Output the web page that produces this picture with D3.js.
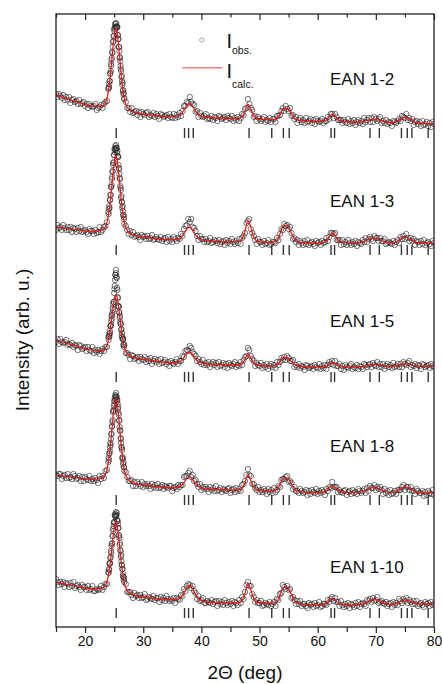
<!DOCTYPE html>
<html><head><meta charset="utf-8">
<script src="https://cdn.jsdelivr.net/npm/d3@7"></script>
<style>
body{margin:0;background:#fff}
svg{display:block}
text{font-family:"Liberation Sans",Arial,Helvetica,sans-serif;fill:#111}
</style>
</head><body>
<svg id="chart" width="442" height="684"></svg>
<script>
// ---------------- data ----------------
const samples = ["EAN 1-2", "EAN 1-3", "EAN 1-5", "EAN 1-8", "EAN 1-10"];
const offsets = [480, 360, 240, 118, 0];          // vertical stacking offsets (arb. u.)
const labelLevel = [62, 60, 60, 57, 54];           // label height above each offset (arb. u.)
const markerBase = [9, 12, 5, 4, 9];               // Bragg-marker base above each offset (arb. u.)
const reflections = [25.35, 37.1, 37.8, 38.6, 48.2, 52.1, 54.1, 55.1, 62.3, 62.9, 69.0, 70.6, 74.4, 75.4, 76.2, 79.0];
const xMajorTicks = [20, 30, 40, 50, 60, 70, 80];
const xMinorTicks = [15, 25, 35, 45, 55, 65, 75];

// measurement grid (2θ, deg): coarse, fine around the main reflection, coarse
const obsX = [].concat(d3.range(15, 23.76, 0.25), d3.range(24, 26.76, 0.05), d3.range(27, 80.01, 0.25));

const obs12 = [53,50,53,51,49,52,47,50,47,50,44,47,48,45,46,43,47,43,44,45,41,43,39,43,41,40,41,43,37,39,40,42,39,43,45,46,
58,59,60,63,66,66,73,74,76,83,81,87,89,95,94,100,105,106,111,111,118,116,119,123,120,123,120,124,121,119,120,120,112,112,108,108,100,100,96,89,90,86,81,78,76,70,71,66,62,64,56,57,53,54,48,49,
45,39,39,35,39,34,35,36,32,35,30,35,33,32,34,35,30,32,31,34,30,33,31,28,33,32,30,31,32,29,33,30,29,33,29,32,30,34,31,36,
41,41,45,44,50,45,43,42,35,36,30,34,31,30,31,33,28,29,28,31,27,30,29,26,31,30,28,29,30,27,31,29,28,31,26,29,27,30,26,29,
33,32,38,39,48,43,39,37,30,31,26,30,28,26,28,30,25,27,26,29,25,28,28,25,31,31,32,36,39,36,41,38,36,39,31,32,28,30,24,27,
29,25,27,24,29,25,26,28,24,27,23,28,26,25,26,28,24,26,26,30,28,33,33,29,33,30,27,27,27,24,27,25,24,28,23,26,24,27,22,25,
27,24,26,23,29,25,27,29,25,29,25,30,28,26,28,30,24,26,24,27,23,25,24,21,26,25,24,26,28,26,31,30,29,33,27,29,26,28,22,25,
26,23,25,21,26,22,23,25,21,24,20,25,23];
const obs13 = [37,42,39,40,37,42,39,37,40,37,40,35,39,38,35,39,36,40,35,36,37,35,33,38,36,36,33,37,34,35,40,35,37,40,41,45,
55,53,58,61,59,67,67,72,72,80,80,82,88,90,96,95,102,104,105,112,112,118,115,118,121,119,117,122,119,119,114,116,111,110,110,102,99,98,93,89,88,81,79,77,69,71,65,65,59,61,56,52,52,48,50,43,
41,37,33,36,32,35,30,31,32,30,27,32,30,31,28,31,28,29,32,27,28,30,28,27,30,26,28,29,25,30,26,28,25,30,28,26,29,28,33,31,
38,41,42,48,45,48,40,39,36,31,27,31,28,28,25,28,25,26,29,24,25,27,26,24,27,23,25,26,22,27,24,26,23,28,25,23,26,24,28,23,
29,31,34,44,46,48,38,34,31,27,23,28,25,25,22,26,23,24,27,22,23,25,25,24,29,27,33,38,37,43,41,42,38,40,34,28,29,25,27,22,
26,24,22,26,23,27,22,24,25,23,21,26,24,25,22,26,24,25,29,26,30,34,34,33,34,27,27,27,22,27,23,25,22,27,24,22,25,23,26,21,
25,24,23,27,25,29,25,28,30,28,26,31,29,29,26,29,26,26,28,23,24,25,24,23,26,22,25,27,24,30,28,31,28,33,29,26,29,26,28,22,
26,25,22,26,23,27,22,24,25,23,21,26,24];
const obs15 = [45,48,43,48,45,44,45,47,42,43,42,44,40,42,41,37,42,41,38,39,40,36,40,37,36,40,34,37,35,37,33,36,38,36,40,40,
50,47,50,53,51,56,54,61,61,62,66,71,68,72,74,79,77,83,85,85,94,98,101,107,112,112,117,114,110,109,99,97,90,89,81,81,80,75,74,69,71,65,63,63,57,58,51,54,50,48,48,48,42,43,40,42,
34,34,32,28,32,31,28,29,30,26,30,28,27,30,25,28,26,29,23,26,28,25,27,23,28,24,25,27,23,25,21,26,24,23,25,28,23,26,26,31,
30,36,37,36,41,39,35,33,31,26,28,25,23,27,22,24,22,25,20,23,25,22,24,20,25,21,22,24,20,23,19,24,22,21,23,25,20,22,21,25,
22,27,30,31,39,37,31,28,26,21,24,22,21,24,19,22,20,23,18,21,23,20,22,19,25,22,25,29,27,30,27,31,29,26,26,27,20,22,20,23,
19,21,20,17,22,21,19,20,21,18,22,20,19,23,18,21,19,22,18,22,25,23,26,22,26,21,21,23,18,21,17,22,20,19,21,23,18,20,19,22,
18,21,20,18,23,22,20,22,23,20,24,22,21,25,20,23,20,23,18,21,23,20,22,19,24,20,21,23,20,23,20,25,23,22,24,26,20,22,21,23,
19,22,21,18,23,22,20,21,22,19,23,21,20];
const obs18 = [34,33,35,35,30,33,34,31,35,31,32,30,35,33,30,31,33,28,32,28,32,30,29,33,28,30,28,31,29,26,33,30,33,31,38,39,
47,51,49,55,56,58,62,66,64,70,75,75,82,83,87,89,97,98,99,103,108,105,111,109,114,113,112,116,110,112,108,109,105,100,102,96,94,88,89,82,79,78,71,70,66,62,61,59,51,52,50,45,47,42,42,38,
37,32,28,28,29,23,27,23,27,25,23,27,22,25,23,25,23,20,25,22,24,21,25,21,22,24,20,23,22,21,23,23,18,21,22,20,24,22,24,24,
32,33,33,36,38,32,34,28,29,25,22,25,19,22,20,22,20,17,22,19,21,18,23,18,19,21,17,20,19,18,20,21,16,19,20,17,21,18,20,18,
24,25,28,34,40,34,33,25,25,21,19,22,17,19,17,20,18,15,20,17,19,16,21,17,19,23,22,29,30,30,32,33,27,28,26,20,22,18,18,16,
20,18,16,17,19,14,18,15,19,17,16,20,15,18,16,19,17,14,20,18,22,21,27,22,22,22,17,19,17,16,18,19,14,17,18,15,19,16,17,15,
20,18,16,18,20,16,21,18,23,21,21,24,19,22,20,22,19,15,20,16,18,14,19,15,16,18,15,19,19,19,22,24,19,22,22,19,22,18,18,15,
20,18,16,16,18,13,17,14,18,16,15,19,14];
const obs110 = [48,45,42,45,43,45,40,44,43,40,44,41,45,39,41,42,40,37,42,40,40,37,41,37,38,41,36,36,38,37,38,41,37,40,43,43,
55,54,58,57,64,63,64,69,70,76,74,81,83,84,91,91,98,96,101,104,105,105,112,111,113,110,115,111,112,114,107,106,106,103,99,99,92,91,89,82,84,77,76,70,72,66,62,62,58,58,51,53,50,47,49,45,
43,35,35,35,32,29,34,31,32,29,32,29,30,33,27,28,30,29,28,31,27,29,29,25,30,27,29,26,31,28,26,28,26,29,24,29,28,27,32,31,
38,36,41,43,42,39,41,36,34,28,31,26,27,29,24,24,26,25,24,27,23,25,26,21,26,23,25,22,27,24,22,25,23,26,21,25,24,22,27,24,
30,28,35,42,45,41,41,33,30,25,27,24,24,26,21,22,24,23,22,25,21,23,25,21,28,27,33,34,42,40,38,41,37,38,29,30,27,23,26,23,
26,21,23,23,21,19,24,22,23,20,24,21,22,25,20,21,23,23,22,27,25,28,30,26,29,25,25,21,26,22,20,23,21,24,19,23,22,20,24,21,
25,20,23,24,23,21,27,26,28,25,29,26,27,30,24,25,26,24,23,25,21,23,24,20,25,22,24,22,28,26,24,28,26,29,24,27,25,23,26,23,
26,21,23,24,22,20,25,23,24,21,25,22,23];

// calculated profiles (Rietveld fit), read at these 2θ positions
const calcX = [15,17,19,21,23,23.75,24.25,24.6,24.9,25.15,25.3,25.5,25.8,26.1,26.5,27,27.75,29,31,33,35,36,36.5,37,37.5,38,38.5,39,39.5,40.25,41.5,43,45,46.5,47,47.5,48,48.5,49,49.5,50.5,52,53,53.5,54,54.5,55,55.5,56,56.75,58,60,61,61.5,62,62.5,63,63.5,64.25,66,67.5,68.5,69.5,70.5,71.5,73,74,75,76,77,78.5,80];
const calc12 = [52,48,44.5,41,40.8,48.3,66.4,87.2,106,116.6,118.5,114.8,99.2,79.5,57.3,42.6,36.4,33.9,32.3,30.8,30.3,31,32.9,37.1,41.8,43.7,40.9,35.8,32.4,30.3,29.3,28.9,28.5,28.8,30.2,35.5,42.9,38,31.3,28.8,27.7,27.3,28.6,32.8,37.7,38.6,37.3,33,28.9,26.8,25.9,25.5,25.8,26.9,30.2,32.8,30.9,27.5,25.6,25,25.2,26.6,27.7,27,25.3,24.4,26.8,29.9,27.4,24.3,23.3,23];
const calc13 = [40,38.5,37,35.5,37.2,44.4,61.7,81.5,99.4,109.5,111.3,107.8,93,74.2,53.2,39.2,33.3,30.9,29.2,27.8,27.3,27.9,29.7,33.6,38.1,39.9,37.1,32.1,28.8,26.75,25.8,25.4,25,25.75,27.9,35.75,46.7,39.65,29.9,26.35,24.85,24.65,26.7,32.9,40.2,41.55,39.75,33.6,27.9,24.9,24,24,24.5,26,30.5,34,31.5,27,24.5,24,24.5,27,29,28,25.25,24.1,26.7,30,27.6,24.7,24,24];
const calc15 = [47,43.5,40,37,36.4,41.7,54.7,69.8,83.45,91.1,92.4,89.6,78.05,63.3,46.9,35.8,31,28.7,26.9,25.2,24.2,24.7,26.2,29.6,33.4,34.9,32.5,28.3,25.4,23.65,22.8,22.4,22,22.2,23.3,27.5,33.4,29.5,24.1,22.1,21.15,21,22,25.15,28.9,29.55,28.6,25.45,22.4,20.8,20.2,20,20.2,20.9,22.9,24.5,23.4,21.35,20.2,20,20.33,21.4,22.3,22,20.96,20.6,21.75,23.2,22.25,21.1,20.91,21];
const calc18 = [34,32.5,31,29.5,31.4,39.1,57.5,78.5,97.7,108.4,110.3,106.6,90.9,70.9,48.6,33.7,27.4,25,23.3,21.8,21.2,21.7,23.2,26.6,30.4,31.9,29.5,25.3,22.4,20.65,19.8,19.4,19,19.3,20.8,26.25,33.9,28.8,21.9,19.3,18.2,17.9,19.4,24.3,30.1,31.1,29.6,24.65,20,17.5,16.7,16.5,16.85,17.9,21.05,23.5,21.75,18.6,16.85,16.5,17,19.5,21.5,20.5,17.75,16.54,19.1,22.3,19.85,16.9,16.09,16];
const calc110 = [45,42.5,40.5,38,38.9,45.2,60.7,78.6,94.75,103.9,105.4,102.2,88.5,71.2,52,39,33.4,30.9,29.2,27.8,27.3,27.8,29.8,34.3,39.3,41.3,38,32.2,28.3,25.85,24.85,24.4,24,24.65,26.6,33.75,43.7,37.25,28.4,25.15,23.85,23.6,25.6,31.65,38.7,40.05,38.3,32.25,26.5,23.5,22.4,22,22.35,23.4,26.55,29,27.25,24.1,22.35,22,22.6,25.2,27.3,26.4,23.7,22.65,24.65,27.2,25.45,23.3,22.91,23];

const obsSeries = [obs12, obs13, obs15, obs18, obs110];
const calcSeries = [calc12, calc13, calc15, calc18, calc110];

// ---------------- layout ----------------
const m = {left: 56, right: 434, top: 14, bottom: 627};
const svg = d3.select("#chart");

const x = d3.scaleLinear().domain([15, 80]).range([m.left, m.right]);
const y = d3.scaleLinear().domain([0, 613]).range([m.bottom, m.top]);

svg.append("defs").append("clipPath").attr("id", "plotclip")
  .append("rect").attr("x", m.left).attr("y", m.top)
  .attr("width", m.right - m.left).attr("height", m.bottom - m.top);

const plot = svg.append("g").attr("clip-path", "url(#plotclip)");

// observed points
obsSeries.forEach((vals, i) => {
  const pts = obsX.map((xv, j) => [xv, vals[j]]).filter(d => d[1] != null);
  plot.append("g")
    .selectAll("circle").data(pts).join("circle")
    .attr("cx", d => x(d[0]))
    .attr("cy", d => y(d[1] + offsets[i]))
    .attr("r", 2.7)
    .attr("fill", "none")
    .attr("stroke", "#262626")
    .attr("stroke-opacity", 0.82)
    .attr("stroke-width", 0.75);
});

// calculated lines
const line = d3.line().x(d => x(d[0])).y(d => y(d[1])).curve(d3.curveMonotoneX);
calcSeries.forEach((vals, i) => {
  plot.append("path")
    .datum(calcX.map((xv, j) => [xv, vals[j] + offsets[i]]))
    .attr("d", line)
    .attr("fill", "none")
    .attr("stroke", "#f01818")
    .attr("stroke-width", 1.25);
});

// Bragg reflection markers
offsets.forEach((off, i) => {
  svg.append("g").selectAll("line").data(reflections).join("line")
    .attr("x1", d => x(d)).attr("x2", d => x(d))
    .attr("y1", y(off + markerBase[i])).attr("y2", y(off + markerBase[i] + 10))
    .attr("stroke", "#333").attr("stroke-width", 1.4);
});

// sample labels
samples.forEach((s, i) => {
  svg.append("text")
    .attr("x", 330).attr("y", y(offsets[i] + labelLevel[i]))
    .attr("font-size", 17).text(s);
});

// frame
svg.append("rect").attr("x", m.left).attr("y", m.top)
  .attr("width", m.right - m.left).attr("height", m.bottom - m.top)
  .attr("fill", "none").attr("stroke", "#222").attr("stroke-width", 1.3);

// bottom axis
const gB = svg.append("g").attr("transform", `translate(0,${m.bottom})`)
  .call(d3.axisBottom(x).tickValues(xMajorTicks).tickSize(6).tickPadding(3).tickFormat(d3.format("d")));
const gBm = svg.append("g").attr("transform", `translate(0,${m.bottom})`)
  .call(d3.axisBottom(x).tickValues(xMinorTicks).tickSize(5).tickFormat(""));
// top axis (inward ticks)
const gT = svg.append("g").attr("transform", `translate(0,${m.top})`)
  .call(d3.axisTop(x).tickValues(xMajorTicks).tickSize(-6).tickFormat(""));
const gTm = svg.append("g").attr("transform", `translate(0,${m.top})`)
  .call(d3.axisTop(x).tickValues(xMinorTicks).tickSize(-3.5).tickFormat(""));
[gB, gBm, gT, gTm].forEach(g => {
  g.select(".domain").remove();
  g.selectAll(".tick line").attr("stroke", "#222").attr("stroke-width", 1.2);
  g.selectAll(".tick text").attr("font-size", 14)
    .attr("font-family", '"Liberation Sans",Arial,sans-serif').attr("fill", "#222");
});

// axis titles
svg.append("text").attr("x", (m.left + m.right) / 2).attr("y", 679)
  .attr("text-anchor", "middle").attr("font-size", 19).text("2Θ (deg)");
svg.append("text").attr("transform", "translate(29,340) rotate(-90)")
  .attr("text-anchor", "middle").attr("font-size", 19).text("Intensity (arb. u.)");

// legend
const lg = svg.append("g");
lg.append("circle").attr("cx", 201.7).attr("cy", 40).attr("r", 2.1)
  .attr("fill", "none").attr("stroke", "#999").attr("stroke-width", 0.9);
lg.append("text").attr("x", 226.5).attr("y", 47.7).attr("font-size", 20).text("I");
lg.append("text").attr("x", 232).attr("y", 53.5).attr("font-size", 10.5).text("obs.");
lg.append("line").attr("x1", 182.3).attr("x2", 222.3).attr("y1", 67.7).attr("y2", 67.7)
  .attr("stroke", "#f28080").attr("stroke-width", 1.5);
lg.append("text").attr("x", 226.5).attr("y", 78.3).attr("font-size", 20).text("I");
lg.append("text").attr("x", 232).attr("y", 88.3).attr("font-size", 10.5).text("calc.");
</script>
</body></html>
